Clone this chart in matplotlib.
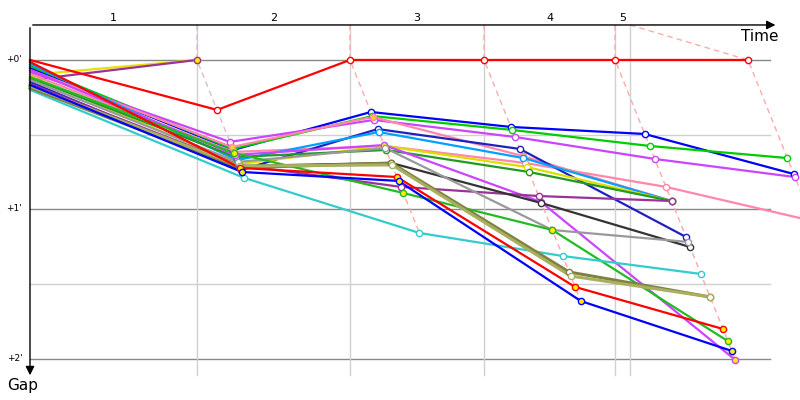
import matplotlib
matplotlib.use('Agg')
import matplotlib.pyplot as plt

# lap gap chart: x = race time (min), y = gap to leader (min)
lap_labels = ['1', '2', '3', '4', '5']
lap_grid = [2.783, 5.333, 7.567, 9.75, 10.0]      # vertical grid lines
lap_end = [2.783, 5.333, 7.567, 9.75, 11.967]     # leader's time at end of each lap
lap_dash_colors = ['#ddb8dd', '#ffaaaa', '#ffaaaa', '#ffaaaa', '#ffaaaa']

gap_ticks = [0, 1, 2]
gap_labels = ["+0'", "+1'", "+2'"]
gap_minor = [0.5, 1.5]

# one entry per car: colour, marker fill, gaps [start, lap1, lap2, ...]
car_colors = ['#e8e000', '#993399',
              '#0000ff', '#00cc00', '#cc44ff', '#ff88aa', '#ff88aa',
              '#2020c0', '#00a0ff', '#dddd00', '#229922', '#cc44ff',
              '#993399', '#333333', '#999999', '#22bb22', '#33cccc',
              '#808040', '#a8b060', '#ff0000', '#0000ff', '#ff0000']
car_faces = ['#ffee00', '#ffee00',
             'white', 'white', 'white', '#ffcc22', 'white',
             'white', 'white', 'white', 'white', '#ffee00',
             'white', 'white', 'white', '#ffee00', 'white',
             'white', 'white', '#ffee00', '#ffee00', 'white']
car_gaps = [
    [0.100, 0.0],
    [0.134, 0.0],
    [0.054, 0.602, 0.348, 0.448, 0.495, 0.763],
    [0.040, 0.595, 0.375, 0.468, 0.575, 0.656],
    [0.080, 0.548, 0.401, 0.515, 0.662, 0.783],
    [0.067, 0.582, 0.381, 0.642, 0.943],
    [0.094, 0.615, 0.575, 0.689, 0.849, 1.077],
    [0.147, 0.736, 0.462, 0.595, 1.184],
    [0.027, 0.669, 0.482, 0.656, 0.943],
    [0.107, 0.696, 0.575, 0.716, 0.943],
    [0.120, 0.649, 0.602, 0.749, 0.943],
    [0.067, 0.635, 0.569, 0.950, 2.007],
    [0.160, 0.702, 0.849, 0.910, 0.943],
    [0.174, 0.709, 0.689, 0.957, 1.251],
    [0.134, 0.682, 0.589, 1.137, 1.217],
    [0.114, 0.622, 0.890, 1.137, 1.880],
    [0.200, 0.789, 1.157, 1.311, 1.431],
    [0.187, 0.722, 0.689, 1.418, 1.585],
    [0.174, 0.709, 0.702, 1.445, 1.585],
    [0.013, 0.722, 0.783, 1.518, 1.799],
    [0.167, 0.749, 0.809, 1.612, 1.946],
    [0.000, 0.334, 0.000, 0.000, 0.000, 0.000],
]

fig = plt.figure(figsize=(8, 4), dpi=100)
ax = fig.add_axes([0, 0, 1, 1])
ax.set_xlim(-0.5, 12.833)
ax.set_ylim(2.274, -0.401)
ax.axis('off')

top = -0.234      # time axis level
x_right = 12.33   # end of horizontal grid
y_bottom = 2.107  # end of vertical grid

# grid
for g in gap_ticks:
    ax.plot([0, x_right], [g, g], color='#888888', lw=1, zorder=1)
for g in gap_minor:
    ax.plot([0, x_right], [g, g], color='#d0d0d0', lw=1, zorder=1)
for t in lap_grid:
    ax.plot([t, t], [top, y_bottom], color='#d0d0d0', lw=1, zorder=1)

# dashed line through each lap's finishing points
for k in range(len(lap_end)):
    gaps_k = [g[k + 1] for g in car_gaps if len(g) > k + 1]
    gmax = max(gaps_k)
    ax.plot([lap_grid[k], lap_end[k], lap_end[k] + gmax], [top, 0, gmax],
            color=lap_dash_colors[k], lw=1, dashes=(4, 3), zorder=2)

# cars
for col, face, gaps in zip(car_colors, car_faces, car_gaps):
    xs = [0] + [lap_end[i] + gaps[i + 1] for i in range(len(gaps) - 1)]
    lw = 2.2 if col in ('#808040', '#a8b060') else 1.6
    ax.plot(xs, gaps, color=col, lw=lw, zorder=3, solid_joinstyle='round')
    ax.plot(xs[1:], gaps[1:], ls='none', marker='o', ms=4.5, mfc=face,
            mec=col, mew=1, zorder=4)

# axes with arrows
ax.annotate('', xy=(12.47, top), xytext=(0, top),
            arrowprops=dict(arrowstyle='-|>', color='black', lw=1, mutation_scale=13))
ax.annotate('', xy=(0, 2.127), xytext=(0, top),
            arrowprops=dict(arrowstyle='-|>', color='black', lw=1, mutation_scale=13))
ax.text(12.17, -0.16, 'Time', fontsize=11, ha='center', va='center')
ax.text(-0.13, 2.175, 'Gap', fontsize=11, ha='center', va='center')

starts = [0] + lap_grid[:-1]
for s, e, lab in zip(starts, lap_grid, lap_labels):
    ax.text((s + e) / 2, -0.28, lab, fontsize=8, ha='center', va='center')
for g, lab in zip(gap_ticks, gap_labels):
    ax.text(-0.26, g - 0.005, lab, fontsize=6.5, ha='center', va='center')

fig.savefig('out.png', dpi=100)
